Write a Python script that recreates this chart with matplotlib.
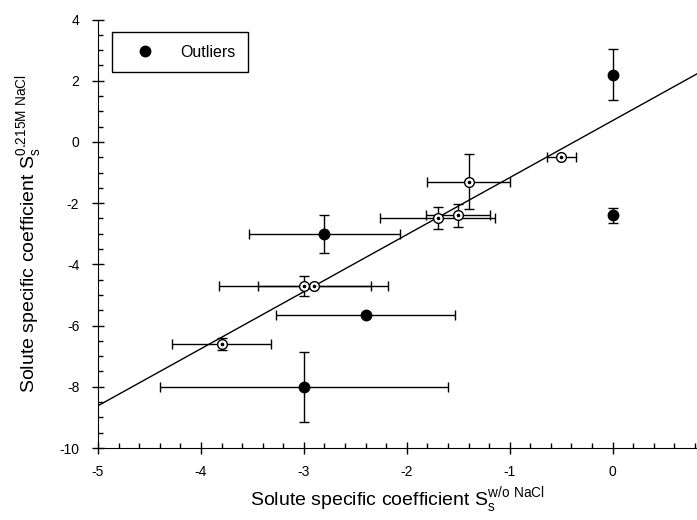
import numpy as np
import matplotlib
matplotlib.use("Agg")
from matplotlib import pyplot as plt
from matplotlib.ticker import MultipleLocator

plt.rcParams['font.family'] = ['Liberation Sans', 'DejaVu Sans']
plt.rcParams['axes.unicode_minus'] = False

# points used for the regression line (open symbols)
x_fit = [-0.5, -1.4, -1.5, -1.7, -2.9, -3.0, -3.8]
y_fit = [-0.5, -1.3, -2.4, -2.5, -4.7, -4.7, -6.6]
xerr_fit = [0.14, 0.40, 0.31, 0.56, 0.55, 0.82, 0.48]
yerr_fit = [0.0, 0.90, 0.38, 0.36, 0.0, 0.33, 0.20]

# outliers (filled symbols)
x_out = [0.0, 0.0, -2.8, -2.4, -3.0]
y_out = [2.2, -2.4, -3.0, -5.65, -8.0]
xerr_out = [0.0, 0.0, 0.73, 0.87, 1.40]
yerr_out = [0.83, 0.25, 0.62, 0.0, 1.15]

fig = plt.figure(figsize=(6.97, 5.20), dpi=100)
ax = fig.add_axes([98/697, 72/520, 599/697, 428.5/520])

ax.set_xlim(-5, 0.82)
ax.set_ylim(-10, 4)

# linear fit through the non-outlier points
slope, icpt = np.polyfit(x_fit, y_fit, 1)
xl = np.array(ax.get_xlim())
ax.plot(xl, slope*xl + icpt, color='black', lw=1, zorder=2)

def draw_err(xs, ys, xe, ye):
    for x, y, a, b in zip(xs, ys, xe, ye):
        ax.errorbar(x, y, xerr=a if a > 0 else None, yerr=b if b > 0 else None,
                    fmt='none', ecolor='black', elinewidth=1, capsize=3.6,
                    capthick=1, zorder=1)

draw_err(x_fit, y_fit, xerr_fit, yerr_fit)
draw_err(x_out, y_out, xerr_out, yerr_out)

ax.plot(x_fit, y_fit, 'o', ms=7, mfc='white', mec='black', mew=1, ls='none', zorder=3)
ax.plot(x_fit, y_fit, 'o', ms=1.6, color='black', ls='none', zorder=4)
ax.plot(x_out, y_out, 'o', ms=7.5, color='black', ls='none', zorder=3,
        label='Outliers')

ax.spines['top'].set_visible(False)
ax.spines['right'].set_visible(False)
ax.xaxis.set_major_locator(MultipleLocator(1))
ax.xaxis.set_minor_locator(MultipleLocator(0.2))
ax.yaxis.set_major_locator(MultipleLocator(2))
ax.yaxis.set_minor_locator(MultipleLocator(0.5))
ax.tick_params(which='major', direction='inout', length=9, width=1, labelsize=10, pad=8)
ax.tick_params(which='minor', direction='in', length=3.5, width=1)
ax.tick_params(axis='y', which='major', pad=9)

ax.set_xlabel('Solute specific coefficient S$_\\mathregular{s}^\\mathregular{w/o\\ NaCl}$',
              fontsize=14, labelpad=5)
ax.set_ylabel('Solute specific coefficient S$_\\mathregular{s}^\\mathregular{0.215M\\ NaCl}$',
              fontsize=14, labelpad=10)

leg = ax.legend(loc='upper left', bbox_to_anchor=(0.023, 0.971), borderaxespad=0,
                fontsize=11.5, fancybox=False, edgecolor='black', framealpha=1,
                borderpad=0.8, handlelength=2.6, handletextpad=0.9)
leg.get_frame().set_linewidth(1)

fig.savefig('out.png', dpi=100)
